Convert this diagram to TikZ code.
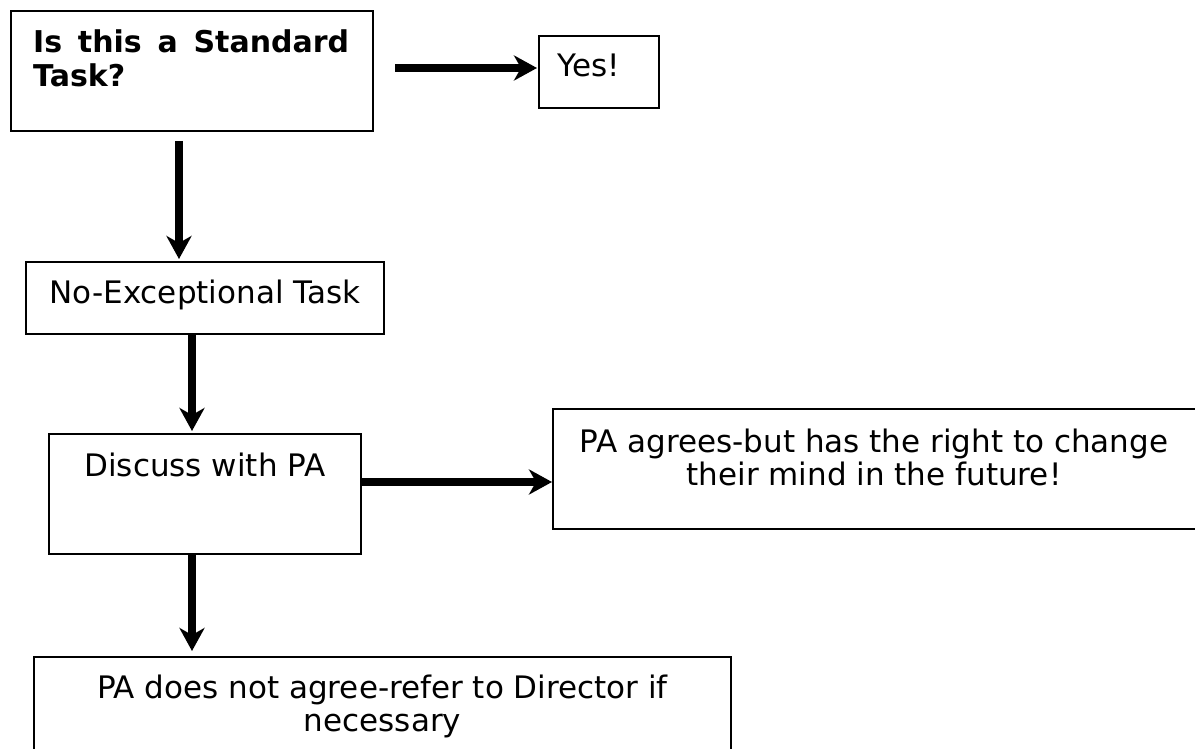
\documentclass[tikz,border=0pt]{standalone}
\usepackage{fontspec}
\setmainfont{DejaVu Sans}
\usetikzlibrary{arrows.meta}
\tikzset{
  box/.style={draw, line width=2pt, inner sep=0pt},
  txt/.style={inner sep=0pt, align=center, font=\fontsize{31}{33}\selectfont},
  arr/.style={line width=7.5pt, -{Stealth[length=23pt,width=25pt,inset=7pt]}}
}
\begin{document}
\begin{tikzpicture}[x=1pt,y=-1pt]
\useasboundingbox (0,0) rectangle (1195,749);
% boxes
\node[box, minimum width=362pt, minimum height=120pt, anchor=north west] (q) at (10,10) {};
\node[inner sep=0pt, anchor=north west, text width=316pt, align=justify, font=\fontsize{30}{34}\selectfont\bfseries] (qt) at (33,30) {Is this a Standard Task?};
\node[box, minimum width=120pt, minimum height=72pt, anchor=north west] (y) at (538,35) {};
\node[txt, anchor=base west] (yt) at (557,77) {Yes!};
\node[box, minimum width=358pt, minimum height=72pt, anchor=north west] (n) at (25,261) {};
\node[txt, anchor=base] (nt) at (n.center |- 0,303) {No-Exceptional Task};
\node[box, minimum width=312pt, minimum height=120pt, anchor=north west] (d) at (48,433) {};
\node[txt, anchor=north] (dt) at (d.north |- 0,452.5) {Discuss with PA};
\node[box, minimum width=645pt, minimum height=120pt, anchor=north west] (p) at (552,408) {};
\node[txt, anchor=north] (pt) at (874,428.5) {PA agrees-but has the right to change\\their mind in the future!};
\node[box, minimum width=697pt, minimum height=150pt, anchor=north west] (r) at (33,656) {};
\node[txt, anchor=north] (rt) at (r.north |- 0,674.5) {PA does not agree-refer to Director if\\necessary};
% connectors
\coordinate (a1s) at (395,68);
\draw[arr] (a1s) -- ([xshift=-1pt]y.west |- a1s);
\coordinate (a2s) at (179,141);
\draw[arr] (a2s) -- ([yshift=2pt]a2s |- n.north);
\coordinate (a3s) at (192,333);
\draw[arr] (a3s) -- ([yshift=2pt]a3s |- d.north);
\coordinate (a4s) at (360,482);
\draw[arr] (d.east |- a4s) -- (p.west |- a4s);
\coordinate (a5s) at (192,555);
\draw[arr] (a5s) -- ([yshift=5pt]a5s |- r.north);
\end{tikzpicture}
\end{document}
